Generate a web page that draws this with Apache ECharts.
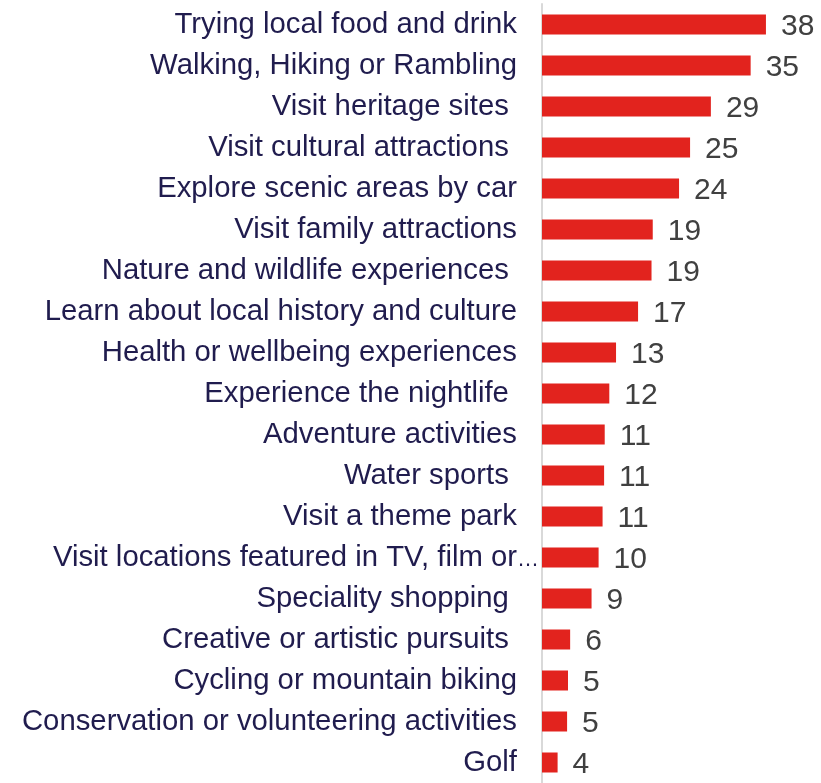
<!DOCTYPE html>
<html>
<head>
<meta charset="utf-8">
<script src="https://cdn.jsdelivr.net/npm/echarts@6/dist/echarts.min.js"></script>
<style>
html,body{margin:0;padding:0;background:#fff;}
#chart{width:821px;height:783px;}
</style>
</head>
<body>
<div id="chart"></div>
<script>
var categories = [
  "Trying local food and drink",
  "Walking, Hiking or Rambling",
  "Visit heritage sites ",
  "Visit cultural attractions ",
  "Explore scenic areas by car",
  "Visit family attractions",
  "Nature and wildlife experiences ",
  "Learn about local history and culture",
  "Health or wellbeing experiences",
  "Experience the nightlife ",
  "Adventure activities",
  "Water sports ",
  "Visit a theme park",
  "Visit locations featured in TV, film or\u2026",
  "Speciality shopping ",
  "Creative or artistic pursuits ",
  "Cycling or mountain biking",
  "Conservation or volunteering activities",
  "Golf"
];
var truncatedLabels = ["Visit locations featured in TV, film or\u2026"];
var values = [37.8, 35.3, 28.8, 25.4, 23.6, 19.3, 19.1, 16.9, 13.3, 12.2, 11.45, 11.35, 11.1, 10.45, 9.3, 5.8, 5.45, 5.3, 3.75];

var FONT = '"Liberation Sans", Arial, sans-serif';
var LABEL_COLOR = '#201C4E';
var LABEL_SIZE = 29.3;
var chart = echarts.init(document.getElementById('chart'), null, {renderer: 'canvas'});
chart.setOption({
  animation: false,
  backgroundColor: '#ffffff',
  grid: {left: 542, top: 4, height: 787, right: 11, containLabel: false},
  xAxis: {
    type: 'value', min: 1.2, max: 45, show: false,
    splitLine: {show: false}
  },
  yAxis: {
    type: 'category',
    data: categories,
    inverse: true,
    axisLine: {show: true, lineStyle: {color: '#D9D9D9', width: 2}},
    axisTick: {show: false},
    axisLabel: {
      margin: 0,
      fontFamily: FONT,
      fontSize: LABEL_SIZE,
      color: LABEL_COLOR,
      formatter: function (v) {
        if (truncatedLabels.indexOf(v) >= 0) {
          var body = v.slice(0, -1);
          var ell = v.slice(-1);
          return '{b|' + body + '}{c|' + ell + '}';
        }
        return '{a|' + v + '}';
      },
      rich: {
        a: {fontFamily: FONT, fontSize: LABEL_SIZE, color: LABEL_COLOR, verticalAlign: 'middle', padding: [0, 25, 0, 0]},
        b: {fontFamily: FONT, fontSize: LABEL_SIZE, color: LABEL_COLOR, verticalAlign: 'middle'},
        c: {fontFamily: FONT, fontSize: 22, color: LABEL_COLOR, verticalAlign: 'middle', padding: [5, 3, 0, 0]}
      }
    }
  },
  series: [{
    type: 'bar',
    data: values,
    barWidth: 20,
    itemStyle: {color: '#E2231E'},
    label: {
      show: true,
      position: 'right',
      distance: 15,
      offset: [0, 2],
      fontFamily: FONT,
      fontSize: 30,
      color: '#404040',
      formatter: function (p) { return Math.round(p.value); }
    }
  }]
});
</script>
</body>
</html>
